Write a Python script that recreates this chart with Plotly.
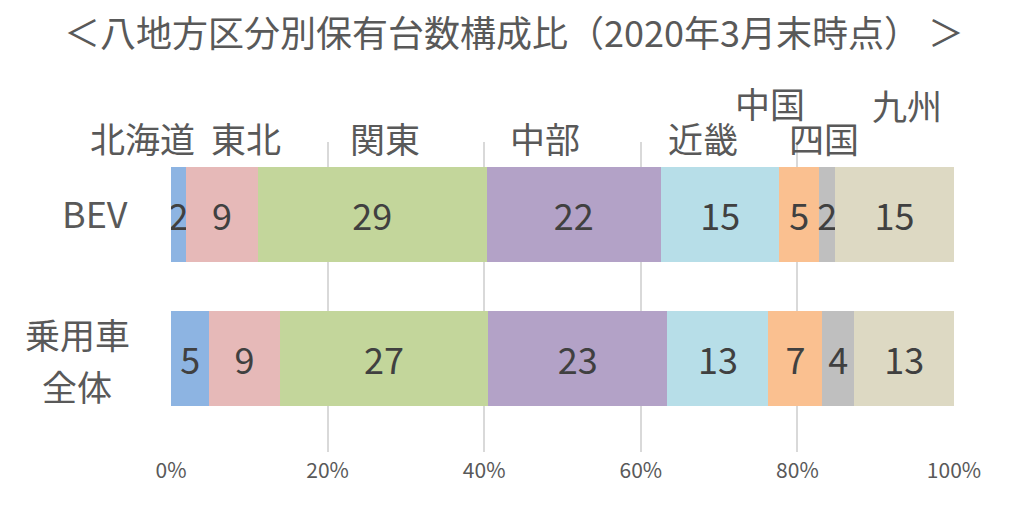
import plotly.graph_objects as go

# ---- data ----
groups = ["乗用車全体", "BEV"]
regions = ["北海道", "東北", "関東", "中部", "近畿", "中国", "四国", "九州"]
bev_share = [1.9, 9.2, 29.2, 22.3, 15.1, 5.1, 2.0, 15.2]
all_share = [4.9, 9.0, 26.6, 22.9, 12.9, 6.9, 4.0, 12.9]
x_ticks = [0, 20, 40, 60, 80, 100]
x_tick_labels = ["0%", "20%", "40%", "60%", "80%", "100%"]

# ---- styles / layout positions (target pixel coords in the 1024x506 window) ----
colors = ["#8DB4E2", "#E6B9B8", "#C3D69B", "#B3A2C7", "#B7DEE8", "#FAC090", "#BFBFBF", "#DDD9C3"]
label_xpx = [142, 246, 385, 545, 703, 770, 824, 907]
label_ypx = [137, 137, 137, 137, 137, 102, 137, 104]
FONT = "Noto Sans CJK JP"
OFF = 8  # page body margin
W, H = 1024 - OFF, 506 - OFF
PL, PR, PT, PB = 171, 954, 142, 452  # plot area in window pixels
ML, MR, MT, MB = PL - OFF, (W + OFF) - PR, PT - OFF, (H + OFF) - PB

def xpaper(px):
    return (px - PL) / (PR - PL)

def ypaper(px):
    return 1 - (px - PT) / (PB - PT)

fig = go.Figure()
for i, r in enumerate(regions):
    fig.add_trace(go.Bar(
        y=[0, 1], x=[all_share[i], bev_share[i]], name=r, orientation="h",
        marker=dict(color=colors[i], line=dict(width=0)),
        texttemplate="%{x:.0f}", textposition="inside", insidetextanchor="middle",
        constraintext="none",
        textfont=dict(family=FONT, size=36, color="#404040"),
        width=0.66, hoverinfo="skip",
    ))

ann = []
for i, r in enumerate(regions):
    ann.append(dict(x=xpaper(label_xpx[i]), xref="paper", y=ypaper(label_ypx[i]), yref="paper",
                    text=r, showarrow=False, xanchor="center", yanchor="middle",
                    font=dict(family=FONT, size=35, color="#595959")))
for txt, xp, yp, sz in [("BEV", 95, 212, 36), ("乗用車", 77, 333, 35), ("全体", 77, 385, 35)]:
    ann.append(dict(x=xpaper(xp), xref="paper", y=ypaper(yp), yref="paper",
                    text=txt, showarrow=False, xanchor="center", yanchor="middle",
                    font=dict(family=FONT, size=sz, color="#595959")))

# title centred on the window
ann.append(dict(x=xpaper(514), xref="paper", y=ypaper(31), yref="paper",
                text="＜八地方区分別保有台数構成比（2020年3月末時点） ＞",
                showarrow=False, xanchor="center", yanchor="middle",
                font=dict(family=FONT, size=36, color="#595959")))

fig.update_layout(
    barmode="stack", width=W, height=H, showlegend=False,
    paper_bgcolor="white", plot_bgcolor="white",
    margin=dict(l=ML, r=MR, t=MT, b=MB),
    annotations=ann,
    xaxis=dict(range=[0, 100], tickvals=x_ticks, ticktext=x_tick_labels,
               showgrid=True, gridcolor="#D9D9D9", gridwidth=1.5, zeroline=False,
               showline=False, ticks="", ticklabelstandoff=4,
               tickfont=dict(family=FONT, size=21, color="#595959")),
    yaxis=dict(range=[-0.65, 1.503], showticklabels=False, showgrid=False,
               zeroline=False, showline=False, tickvals=[0, 1]),
)
fig.write_html("out.html")
